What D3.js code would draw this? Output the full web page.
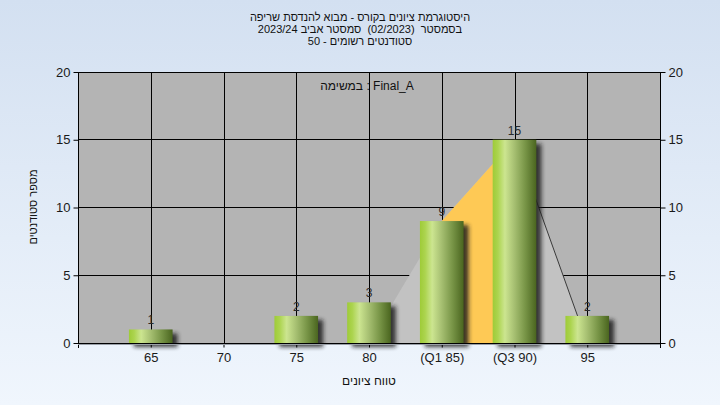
<!DOCTYPE html>
<html>
<head>
<meta charset="utf-8">
<script src="https://cdn.jsdelivr.net/npm/d3@7/dist/d3.min.js"></script>
<style>
  html, body { margin: 0; padding: 0; }
  body { width: 720px; height: 405px; overflow: hidden; }
  text { font-family: "Liberation Sans", Arial, sans-serif; }
  .title { white-space: pre; }
</style>
</head>
<body>
<svg id="chart" width="720" height="405"></svg>
<script>
// ---- data ----
const categories = [65, 70, 75, 80, 85, 90, 95];
const tickLabels = ["65", "70", "75", "80", "(Q1 85)", "(Q3 90)", "95"];
const counts = [1, 0, 2, 3, 9, 15, 2];
const curveX = [80, 85, 90, 95];
const curveY = [0, 9, 15, 0];
const quartiles = [85, 90];
const yTicks = [0, 5, 10, 15, 20];
const titleLines = [
  "היסטוגרמת ציונים בקורס - מבוא להנדסת שריפה",
  "בסמסטר  (02/2023)  סמסטר אביב 2023/24",
  "סטודנטים רשומים - 50"
];
const taskLabel = "Final_A : במשימה";
const xTitle = "טווח ציונים";
const yTitle = "מספר סטודנטים";

// ---- layout ----
const W = 720, H = 405;
const m = { left: 78, right: 60, top: 72, bottom: 62 };
const pw = W - m.left - m.right, ph = H - m.top - m.bottom;

const svg = d3.select("#chart");
const defs = svg.append("defs");

const bg = defs.append("linearGradient").attr("id", "bg").attr("x1", 0).attr("y1", 0).attr("x2", 0).attr("y2", 1);
bg.append("stop").attr("offset", "0%").attr("stop-color", "#d3e0f1");
bg.append("stop").attr("offset", "100%").attr("stop-color", "#f0f6fd");

const bar = defs.append("linearGradient").attr("id", "bar").attr("x1", 0).attr("y1", 0).attr("x2", 1).attr("y2", 0);
[["0%", "#9ecb38"], ["12%", "#acd44f"], ["28%", "#cce590"], ["48%", "#a9c274"], ["75%", "#779446"], ["100%", "#4a651f"]]
  .forEach(([o, c]) => bar.append("stop").attr("offset", o).attr("stop-color", c));

const blur = defs.append("filter").attr("id", "blur").attr("x", "-30%").attr("y", "-30%").attr("width", "160%").attr("height", "160%");
blur.append("feGaussianBlur").attr("stdDeviation", 2);

svg.append("rect").attr("width", W).attr("height", H).attr("fill", "url(#bg)");

const x = d3.scaleLinear().domain([60, 100]).range([m.left, m.left + pw]);
const y = d3.scaleLinear().domain([0, 20]).range([m.top + ph, m.top]);
const barW = (x(65) - x(60)) * 0.6;

// plot background
svg.append("rect").attr("x", m.left).attr("y", m.top).attr("width", pw).attr("height", ph).attr("fill", "#b4b4b4");

// gridlines
const g = svg.append("g");
g.selectAll("line.hg").data(yTicks.slice(1)).join("line")
  .attr("x1", m.left).attr("x2", m.left + pw).attr("y1", d => y(d)).attr("y2", d => y(d))
  .attr("stroke", "#000").attr("shape-rendering", "crispEdges");
g.selectAll("line.vg").data(categories).join("line")
  .attr("x1", d => Math.round(x(d)) + 0.5).attr("x2", d => Math.round(x(d)) + 0.5)
  .attr("y1", m.top).attr("y2", m.top + ph)
  .attr("stroke", "#000").attr("shape-rendering", "crispEdges");

// distribution area
const pts = curveX.map((d, i) => [d, curveY[i]]);
const area = d3.area().x(d => x(d[0])).y0(y(0)).y1(d => y(d[1]));
svg.append("path").datum(pts).attr("d", area).attr("fill", "#c2c2c2");
const qPts = pts.filter(d => d[0] >= quartiles[0] && d[0] <= quartiles[1]);
svg.append("path").datum(qPts).attr("d", area).attr("fill", "#fec955");
svg.append("path").datum(pts.slice(2)).attr("d", d3.line().x(d => x(d[0])).y(d => y(d[1])))
  .attr("fill", "none").attr("stroke", "#3a3a3a").attr("stroke-width", 1);

// bars
const data = categories.map((c, i) => ({ c, v: counts[i] })).filter(d => d.v > 0);
svg.selectAll("rect.sh").data(data).join("rect")
  .attr("x", d => x(d.c) - barW / 2 + 5).attr("y", d => y(d.v) + 4)
  .attr("width", barW).attr("height", d => y(0) - y(d.v))
  .attr("fill", "#1e1e1e").attr("opacity", 0.85).attr("filter", "url(#blur)");
svg.selectAll("rect.bar").data(data).join("rect")
  .attr("x", d => x(d.c) - barW / 2).attr("y", d => y(d.v))
  .attr("width", barW).attr("height", d => y(0) - y(d.v))
  .attr("fill", "url(#bar)");
svg.selectAll("text.val").data(data).join("text")
  .attr("x", d => x(d.c)).attr("y", d => y(d.v) - 5)
  .attr("text-anchor", "middle").attr("font-size", 12).attr("fill", "#2a2a2a")
  .text(d => d.v);

// frame (left, right)
svg.append("line").attr("x1", m.left + 0.5).attr("x2", m.left + 0.5).attr("y1", m.top).attr("y2", m.top + ph + 5).attr("stroke", "#000");
svg.append("line").attr("x1", m.left + pw + 0.5).attr("x2", m.left + pw + 0.5).attr("y1", m.top).attr("y2", m.top + ph + 5).attr("stroke", "#000");

// axes
const yl = svg.append("g").attr("transform", `translate(${m.left + 0.5},0)`)
  .call(d3.axisLeft(y).tickValues(yTicks).tickSize(5).tickPadding(3));
const yr = svg.append("g").attr("transform", `translate(${m.left + pw + 0.5},0)`)
  .call(d3.axisRight(y).tickValues(yTicks).tickSize(5).tickPadding(3));
const xa = svg.append("g").attr("transform", `translate(0,${m.top + ph + 0.5})`)
  .call(d3.axisBottom(x).tickValues(categories).tickSize(4).tickPadding(5).tickFormat((d, i) => tickLabels[i]));
[yl, yr, xa].forEach(a => {
  a.select(".domain").remove();
  a.selectAll("text").attr("font-size", 13).attr("fill", "#1a1a1a").attr("font-family", "Liberation Sans, Arial, sans-serif");
  a.selectAll("line").attr("stroke", "#000");
});
svg.append("line").attr("x1", m.left).attr("x2", m.left + pw).attr("y1", m.top + ph + 0.5).attr("y2", m.top + ph + 0.5).attr("stroke", "#000");
svg.append("line").attr("x1", m.left).attr("x2", m.left + pw).attr("y1", m.top + ph + 1.5).attr("y2", m.top + ph + 1.5).attr("stroke", "#9aa0a8");

// titles
svg.selectAll("text.title").data(titleLines).join("text")
  .attr("class", "title")
  .attr("x", 360).attr("y", (d, i) => 21 + i * 12)
  .attr("text-anchor", "middle").attr("direction", "rtl").attr("font-size", 11).attr("fill", "#111")
  .text(d => d);

svg.append("text").attr("x", 367).attr("y", 90).attr("text-anchor", "middle").attr("direction", "rtl")
  .attr("font-size", 12).attr("fill", "#111").text(taskLabel);

svg.append("text").attr("x", 369).attr("y", 385).attr("text-anchor", "middle")
  .attr("font-size", 12).attr("fill", "#111").text(xTitle);

svg.append("text").attr("transform", "translate(37,207) rotate(-90)").attr("text-anchor", "middle")
  .attr("font-size", 11).attr("fill", "#111").text(yTitle);
</script>
</body>
</html>
